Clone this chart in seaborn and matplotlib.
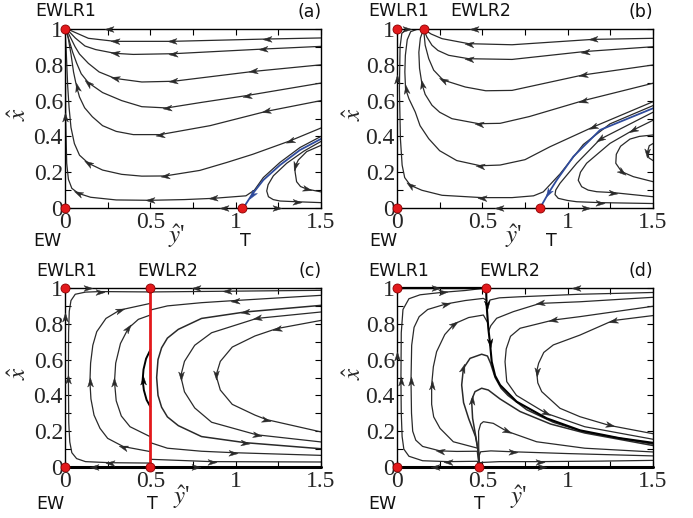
import numpy as np
import matplotlib
matplotlib.use("Agg")
import matplotlib.pyplot as plt
from matplotlib.path import Path
from matplotlib.markers import MarkerStyle
from matplotlib.transforms import Affine2D
import seaborn as sns

# ---- trajectories, (y', x) pairs, listed in flow direction ----
# panel (a)
a1 = [(1.5, 0.950), (1.182, 0.944), (0.625, 0.931), (0.293, 0.931), (0.137, 0.948), (0.08, 0.972), (0.03, 0.993),
      (0.0, 1.0)]
a2 = [(1.5, 0.903), (1.162, 0.888), (0.635, 0.862), (0.40, 0.858), (0.293, 0.864), (0.18, 0.885), (0.117, 0.905),
      (0.06, 0.95), (0.02, 0.99), (0.0, 1.0)]
a3 = [(1.5, 0.80), (1.104, 0.763), (0.635, 0.708), (0.45, 0.704), (0.293, 0.724), (0.2, 0.76), (0.137, 0.808),
      (0.085, 0.86), (0.059, 0.901), (0.02, 0.976), (0.0, 1.0)]
a4 = [(1.5, 0.698), (1.064, 0.628), (0.80, 0.59), (0.596, 0.559), (0.45, 0.566), (0.332, 0.600), (0.22, 0.645),
      (0.137, 0.70), (0.095, 0.75), (0.068, 0.81), (0.045, 0.87), (0.02, 0.95), (0.0, 1.0)]
a5 = [(1.5, 0.60), (1.18, 0.54), (0.85, 0.46), (0.557, 0.41), (0.40, 0.41), (0.30, 0.428), (0.22, 0.46),
      (0.16, 0.51), (0.115, 0.56), (0.085, 0.62), (0.068, 0.678), (0.05, 0.76), (0.035, 0.86), (0.016, 0.966),
      (0.0, 1.0)]
a6 = [(1.5, 0.447), (1.318, 0.375), (1.1, 0.30), (0.95, 0.255), (0.79, 0.21), (0.586, 0.179), (0.45, 0.178),
      (0.332, 0.188), (0.22, 0.212), (0.137, 0.25), (0.085, 0.295), (0.055, 0.36), (0.035, 0.45), (0.024, 0.56),
      (0.016, 0.678), (0.006, 0.90), (0.0, 1.0)]
a7 = [(1.5, 0.40), (1.377, 0.338), (1.26, 0.255), (1.162, 0.17), (1.11, 0.10), (1.06, 0.068), (0.869, 0.054),
      (0.7, 0.047), (0.498, 0.043), (0.3, 0.045), (0.15, 0.06), (0.078, 0.082), (0.04, 0.11), (0.02, 0.16),
      (0.01, 0.25), (0.004, 0.49), (0.002, 0.98), (0.0, 1.0)]
a8 = [(1.5, 0.35), (1.416, 0.315), (1.367, 0.268), (1.35, 0.235), (1.348, 0.203), (1.357, 0.147), (1.38, 0.12),
      (1.416, 0.106), (1.5, 0.09)]
a9 = [(1.5, 0.372), (1.40, 0.318), (1.299, 0.25), (1.221, 0.18), (1.19, 0.13), (1.182, 0.095), (1.192, 0.063),
      (1.22, 0.047), (1.26, 0.039), (1.357, 0.035), (1.5, 0.03)]
a_blue = [(1.5, 0.386), (1.377, 0.324), (1.26, 0.24), (1.162, 0.156), (1.094, 0.073), (1.045, 0.0)]

# panel (b)
b1 = [(1.5, 0.948), (1.148, 0.942), (0.674, 0.912), (0.42, 0.918), (0.264, 0.946), (0.2, 0.972), (0.166, 0.993),
      (0.156, 1.0)]
b2 = [(1.5, 0.901), (1.099, 0.874), (0.674, 0.83), (0.42, 0.834), (0.303, 0.853), (0.24, 0.88), (0.205, 0.909),
      (0.175, 0.955), (0.156, 1.0)]
b3 = [(1.5, 0.799), (1.089, 0.743), (0.674, 0.657), (0.52, 0.655), (0.40, 0.676), (0.27, 0.715), (0.215, 0.77),
      (0.186, 0.834), (0.165, 0.91), (0.156, 1.0)]
b4 = [(1.5, 0.697), (1.092, 0.60), (0.776, 0.511), (0.604, 0.473), (0.479, 0.471), (0.322, 0.499), (0.25, 0.535),
      (0.205, 0.574), (0.165, 0.635), (0.146, 0.694), (0.132, 0.78), (0.128, 0.87), (0.137, 0.95), (0.156, 1.0)]
b5 = [(1.5, 0.594), (1.148, 0.452), (0.896, 0.342), (0.75, 0.27), (0.604, 0.24), (0.489, 0.236), (0.35, 0.265),
      (0.25, 0.32), (0.186, 0.387), (0.135, 0.46), (0.107, 0.536), (0.07, 0.61), (0.05, 0.667), (0.046, 0.76),
      (0.049, 0.853), (0.06, 0.94), (0.08, 0.985), (0.117, 0.998), (0.156, 1.0)]
b6 = [(1.5, 0.572), (1.248, 0.47), (1.092, 0.355), (0.955, 0.19), (0.857, 0.09), (0.80, 0.068), (0.674, 0.058),
      (0.498, 0.058), (0.264, 0.071), (0.146, 0.099), (0.078, 0.127), (0.045, 0.17), (0.03, 0.24), (0.02, 0.387),
      (0.014, 0.667), (0.018, 0.9), (0.028, 0.975), (0.05, 0.997), (0.088, 1.0), (0.156, 1.0)]
b7 = [(1.5, 0.535), (1.19, 0.384), (1.053, 0.25), (0.955, 0.138), (0.93, 0.1), (0.926, 0.075), (0.945, 0.054),
      (1.0, 0.042), (1.053, 0.035), (1.19, 0.03), (1.5, 0.025)]
b8 = [(1.5, 0.49), (1.385, 0.436), (1.248, 0.361), (1.111, 0.25), (1.075, 0.2), (1.062, 0.155), (1.082, 0.119),
      (1.12, 0.1), (1.17, 0.091), (1.267, 0.086), (1.5, 0.063)]
b9 = [(1.5, 0.408), (1.42, 0.4), (1.365, 0.385), (1.31, 0.345), (1.285, 0.3), (1.282, 0.25), (1.316, 0.203),
      (1.385, 0.175), (1.5, 0.147)]
b10 = [(1.5, 0.36), (1.478, 0.348), (1.467, 0.31), (1.476, 0.28), (1.5, 0.265)]
b_blue = [(1.5, 0.557), (1.19, 0.436), (1.033, 0.287), (0.936, 0.156), (0.887, 0.082), (0.838, 0.0)]

# panel (c)
c_l1 = [(0.5, 0.022), (0.264, 0.024), (0.12, 0.03), (0.068, 0.047), (0.04, 0.08), (0.028, 0.14), (0.022, 0.25),
        (0.02, 0.49), (0.021, 0.75), (0.025, 0.87), (0.035, 0.93), (0.06, 0.965), (0.12, 0.977), (0.205, 0.98),
        (0.5, 0.978)]
c_l2 = [(0.5, 0.086), (0.342, 0.114), (0.25, 0.16), (0.205, 0.216), (0.17, 0.29), (0.152, 0.38), (0.146, 0.477),
        (0.15, 0.58), (0.163, 0.68), (0.186, 0.756), (0.24, 0.83), (0.322, 0.877), (0.5, 0.914)]
c_l3 = [(0.5, 0.169), (0.381, 0.225), (0.33, 0.285), (0.3, 0.37), (0.29, 0.477), (0.297, 0.58), (0.325, 0.69),
        (0.371, 0.775), (0.43, 0.825), (0.5, 0.849)]
c_l4 = [(0.5, 0.337), (0.478, 0.375), (0.462, 0.43), (0.455, 0.486), (0.46, 0.545), (0.475, 0.605), (0.5, 0.654)]
c_ra = [(1.5, 0.987), (0.95, 0.982), (0.5, 0.978)]
c_ra2 = [(0.5, 0.043), (0.859, 0.03), (1.5, 0.028)]
c_rb = [(1.5, 0.959), (0.996, 0.93), (0.8, 0.918), (0.6, 0.9), (0.5, 0.877)]
c_rb2 = [(0.5, 0.136), (0.6, 0.105), (0.8, 0.088), (0.986, 0.08), (1.5, 0.065)]
c_c1 = [(1.5, 0.903), (1.055, 0.866), (0.8, 0.83), (0.664, 0.769), (0.6, 0.72), (0.566, 0.666), (0.545, 0.6),
        (0.537, 0.5), (0.545, 0.4), (0.566, 0.334), (0.6, 0.28), (0.664, 0.231), (0.8, 0.17), (1.055, 0.136),
        (1.5, 0.102)]
c_rd = [(1.5, 0.866), (1.123, 0.83), (0.859, 0.75), (0.76, 0.68), (0.7, 0.59), (0.678, 0.508), (0.7, 0.42),
        (0.76, 0.33), (0.859, 0.25), (1.123, 0.18), (1.5, 0.14)]
c_re = [(1.5, 0.819), (1.24, 0.773), (1.113, 0.732), (0.98, 0.67), (0.91, 0.59), (0.885, 0.512), (0.91, 0.43),
        (0.98, 0.35), (1.113, 0.29), (1.18, 0.265), (1.5, 0.196)]

# panel (d)
d_sep = [(0.522, 1.0), (0.525, 0.905), (0.535, 0.775), (0.545, 0.691), (0.555, 0.588), (0.575, 0.51), (0.604, 0.458),
         (0.701, 0.365), (0.877, 0.272), (1.072, 0.205), (1.3, 0.162), (1.5, 0.135)]
d_h1 = [(0.482, 0.0), (0.478, 0.08), (0.46, 0.17), (0.42, 0.27), (0.39, 0.36), (0.379, 0.458), (0.389, 0.551),
        (0.428, 0.607), (0.496, 0.63), (0.53, 0.62), (0.548, 0.58), (0.575, 0.50), (0.61, 0.44), (0.65, 0.40),
        (0.76, 0.32), (0.916, 0.25), (1.1, 0.195), (1.5, 0.128)]
d_h2 = [(0.482, 0.0), (0.476, 0.08), (0.467, 0.141), (0.443, 0.272), (0.437, 0.374), (0.457, 0.421), (0.496, 0.44),
        (0.535, 0.43), (0.604, 0.38), (0.721, 0.31), (0.9, 0.24), (1.1, 0.19), (1.5, 0.12)]
d_h3 = [(0.482, 0.0), (0.479, 0.1), (0.478, 0.2), (0.49, 0.24), (0.506, 0.253), (0.564, 0.244), (0.643, 0.2),
        (0.818, 0.141), (1.1, 0.105), (1.5, 0.084)]
d_l4 = [(0.482, 0.0), (0.48, 0.06), (0.49, 0.085), (0.55, 0.09), (0.68, 0.085), (1.0, 0.075), (1.5, 0.062)]
d_l5 = [(0.482, 0.0), (0.49, 0.025), (0.6, 0.03), (0.835, 0.03), (1.2, 0.033), (1.5, 0.037)]
d_ll1 = [(0.482, 0.0), (0.47, 0.032), (0.3, 0.03), (0.15, 0.035), (0.07, 0.06), (0.04, 0.1), (0.03, 0.17),
         (0.025, 0.3), (0.023, 0.483), (0.025, 0.75), (0.035, 0.88), (0.07, 0.94), (0.135, 0.962), (0.268, 0.976),
         (0.4, 0.986), (0.522, 1.0)]
d_ll2 = [(0.482, 0.0), (0.47, 0.088), (0.35, 0.087), (0.252, 0.09), (0.15, 0.115), (0.11, 0.15), (0.092, 0.2),
         (0.085, 0.3), (0.082, 0.483), (0.086, 0.68), (0.1, 0.78), (0.13, 0.84), (0.18, 0.88), (0.288, 0.911),
         (0.4, 0.93), (0.506, 0.942), (0.526, 0.93)]
d_ll3 = [(0.482, 0.0), (0.477, 0.104), (0.33, 0.141), (0.252, 0.216), (0.215, 0.28), (0.203, 0.35), (0.203, 0.458),
         (0.213, 0.56), (0.232, 0.644), (0.28, 0.74), (0.336, 0.80), (0.42, 0.835), (0.506, 0.849), (0.535, 0.8)]
d_r0 = [(1.5, 0.975), (1.07, 0.965), (0.72, 0.951), (0.6, 0.945), (0.545, 0.933), (0.527, 0.9)]
d_r1 = [(1.5, 0.948), (1.07, 0.923), (0.838, 0.914), (0.682, 0.868), (0.584, 0.831), (0.55, 0.79), (0.537, 0.76)]
d_r2 = [(1.5, 0.898), (1.072, 0.84), (0.916, 0.821), (0.721, 0.775), (0.665, 0.73), (0.64, 0.66), (0.633, 0.588),
        (0.643, 0.477), (0.70, 0.40), (0.874, 0.30), (1.1, 0.225), (1.5, 0.155)]
d_r3 = [(1.5, 0.846), (1.265, 0.818), (1.072, 0.737), (0.916, 0.682), (0.86, 0.64), (0.83, 0.58), (0.818, 0.533),
        (0.825, 0.47), (0.848, 0.421), (0.955, 0.328), (1.072, 0.281), (1.246, 0.232), (1.5, 0.186)]

# fixed points per panel
fp_a = [(0, 0), (0, 1), (1.04, 0)]
fp_b = [(0, 0), (0, 1), (0.156, 1), (0.835, 0)]
fp_c = [(0, 0), (0, 1), (0.5, 1), (0.5, 0)]
fp_d = [(0, 0), (0, 1), (0.522, 1), (0.482, 0)]

# arrows sitting on the axis frame: x, y, direction in degrees
sp_a = [(0, 0.51, 90), (0.26, 1, 180), (0.93, 0, 180), (1.24, 0, 0)]
sp_b = [(0, 0.72, 90), (0.059, 1, 0), (0.449, 1, 180), (0.60, 0, 180), (1.109, 0, 0)]
sp_c = [(0, 0.84, 90), (0.137, 1, 0), (0.77, 1, 180), (0.17, 0, 180), (0.77, 0, 0)]
sp_d = [(0, 0.62, 90), (0.229, 1, 0), (1.05, 1, 180), (0.22, 0, 180), (0.85, 0, 0)]

# labels: text, x px, y px (figure pixels from top left)
lab_a = [("EWLR1", 66, 11), ("(a)", 310, 12), ("EW", 47, 241), ("T", 245, 241)]
lab_b = [("EWLR1", 399, 11), ("EWLR2", 481, 11), ("(b)", 641, 12), ("EW", 383, 241), ("T", 551, 241)]
lab_c = [("EWLR1", 67, 271), ("EWLR2", 168, 271), ("(c)", 310, 271), ("EW", 50, 504), ("T", 152, 504)]
lab_d = [("EWLR1", 399, 271), ("EWLR2", 510, 271), ("(d)", 641, 271), ("EW", 382, 504), ("T", 479, 504)]
ylab_pos = [(19, 114), (354, 114), (19, 373), (354, 373)]
xlab_pos = [(177, 236), (514, 236), (182, 497), (519, 497)]

INK = "#2a2a2a"
BLUE = "#2f4b9c"
RED = "#e3191c"

sns.set_style("ticks")
plt.rcParams["font.family"] = ["DejaVu Sans"]
plt.rcParams["mathtext.fontset"] = "stix"

W, H = 693, 518
fig = plt.figure(figsize=(W / 100, H / 100), dpi=100)

HEAD = Path([(0.5, 0), (-0.5, 0.32), (-0.22, 0), (-0.5, -0.32), (0.5, 0)],
            [Path.MOVETO, Path.LINETO, Path.LINETO, Path.LINETO, Path.CLOSEPOLY])


def head(ax, x, y, ang, color=INK):
    m = MarkerStyle(HEAD, transform=Affine2D().rotate_deg(ang))
    ax.plot([x], [y], marker=m, ms=6.5, color=color, mec=color, mew=0.3,
            ls="none", zorder=4, clip_on=False)


def curve(ax, pts, arrows=(), color=INK, lw=0.9):
    pts = np.asarray(pts, dtype=float)
    sns.lineplot(x=pts[:, 0], y=pts[:, 1], sort=False, estimator=None, ax=ax,
                 color=color, lw=lw)
    d = ax.transData.transform(pts)
    for i in arrows:
        v = d[min(i + 1, len(d) - 1)] - d[max(i - 1, 0)]
        head(ax, pts[i, 0], pts[i, 1], np.degrees(np.arctan2(v[1], v[0])), color)


def make_axes(left, top, right, bottom):
    ax = fig.add_axes([left / W, 1 - bottom / H, (right - left) / W, (bottom - top) / H])
    ax.set_xlim(0, 1.5)
    ax.set_ylim(0, 1)
    ax.set_autoscale_on(False)
    ax.set_xticks([0, 0.5, 1, 1.5], ["0", "0.5", "1", "1.5"])
    ax.set_yticks([0, 0.2, 0.4, 0.6, 0.8, 1], ["0", "0.2", "0.4", "0.6", "0.8", "1"])
    ax.set_xticks(np.arange(0, 1.51, 0.25), minor=True)
    ax.set_yticks(np.arange(0, 1.01, 0.1), minor=True)
    ax.tick_params(which="both", direction="in", top=True, right=True, length=4,
                   width=0.8, color="black")
    ax.tick_params(axis="y", pad=1.5)
    ax.tick_params(axis="x", pad=3)
    for lab in ax.get_xticklabels() + ax.get_yticklabels():
        lab.set_fontfamily("Liberation Serif")
        lab.set_fontsize(17)
    for s in ax.spines.values():
        s.set_linewidth(1.0)
        s.set_color("black")
    return ax


boxes = [(65, 29, 321, 208), (397, 29, 653, 208), (65, 288, 321, 467), (397, 288, 653, 467)]
axs = [make_axes(*b) for b in boxes]
ax_a, ax_b, ax_c, ax_d = axs

# (a)
curve(ax_a, a1, [1, 2, 3])
curve(ax_a, a2, [1, 2, 4])
curve(ax_a, a3, [1, 2, 4])
curve(ax_a, a4, [1, 3, 7])
curve(ax_a, a5, [1, 3, 10])
curve(ax_a, a6, [1, 5, 9])
curve(ax_a, a7, [6, 8, 11])
curve(ax_a, a8, [3, 7])
curve(ax_a, a9, [9])
curve(ax_a, a_blue, [4], color=BLUE, lw=1.3)

# (b)
curve(ax_b, b1, [1, 3])
curve(ax_b, b2, [1, 3])
curve(ax_b, b3, [1, 5])
curve(ax_b, b4, [1, 4, 9])
curve(ax_b, b5, [1, 5, 12])
curve(ax_b, b6, [7, 10])
curve(ax_b, b7, [1, 9])
curve(ax_b, b8, [1, 9])
curve(ax_b, b9, [6])
curve(ax_b, b10, [2])
curve(ax_b, b_blue, [4], color=BLUE, lw=1.3)

# (c)
curve(ax_c, c_l1, [1, 7, 13])
curve(ax_c, c_l2, [1, 6, 11])
curve(ax_c, c_l3, [4, 7])
curve(ax_c, c_l4, [3], lw=1.4, color="black")
curve(ax_c, c_ra, [1])
curve(ax_c, c_ra2, [1])
curve(ax_c, c_rb, [1])
curve(ax_c, c_rb2, [3])
curve(ax_c, c_c1, [1, 13], lw=1.1)
curve(ax_c, c_rd, [1, 5, 9])
curve(ax_c, c_re, [1, 5, 9])
ax_c.plot([0, 1.5], [0, 0], color="black", lw=2.2, clip_on=False, zorder=3)
ax_c.plot([0.5, 0.5], [0, 1], color=RED, lw=2.0, zorder=4, clip_on=False)

# (d)
curve(ax_d, d_ll1, [2, 8, 13])
curve(ax_d, d_ll2, [3, 8, 13])
curve(ax_d, d_ll3, [6, 10])
curve(ax_d, d_h1, [6], lw=1.1)
curve(ax_d, d_h2, [4], lw=1.1)
curve(ax_d, d_h3, [6])
curve(ax_d, d_l4, [4])
curve(ax_d, d_l5, [3])
curve(ax_d, d_r0)
curve(ax_d, d_r1, [2])
curve(ax_d, d_r2, [2, 9])
curve(ax_d, d_r3, [1, 6, 11])
curve(ax_d, d_sep, [1, 3], lw=1.5, color="black")
ax_d.plot([0, 1.5], [0, 0], color="black", lw=2.2, clip_on=False, zorder=3)
ax_d.plot([0, 0.522], [1, 1], color="black", lw=1.6, clip_on=False, zorder=3)

for ax, sp in zip(axs, [sp_a, sp_b, sp_c, sp_d]):
    for x, y, ang in sp:
        head(ax, x, y, ang)

for ax, fp in zip(axs, [fp_a, fp_b, fp_c, fp_d]):
    fp = np.asarray(fp, dtype=float)
    sns.scatterplot(x=fp[:, 0], y=fp[:, 1], ax=ax, s=42, color=RED, edgecolor="#8a0000",
                    linewidth=0.6, zorder=6, clip_on=False)

for labs in [lab_a, lab_b, lab_c, lab_d]:
    for t, x, y in labs:
        fig.text(x / W, 1 - y / H, t, fontsize=12.5, ha="center", va="center", color="#111111")

for x, y in ylab_pos:
    fig.text(x / W, 1 - y / H, r"$\hat{x}$", fontsize=18, rotation=90, ha="center", va="center")
for x, y in xlab_pos:
    fig.text(x / W, 1 - y / H, r"$\hat{y}$'", fontsize=18, ha="center", va="center",
             family="Liberation Serif")

fig.savefig("out.png", dpi=100)
